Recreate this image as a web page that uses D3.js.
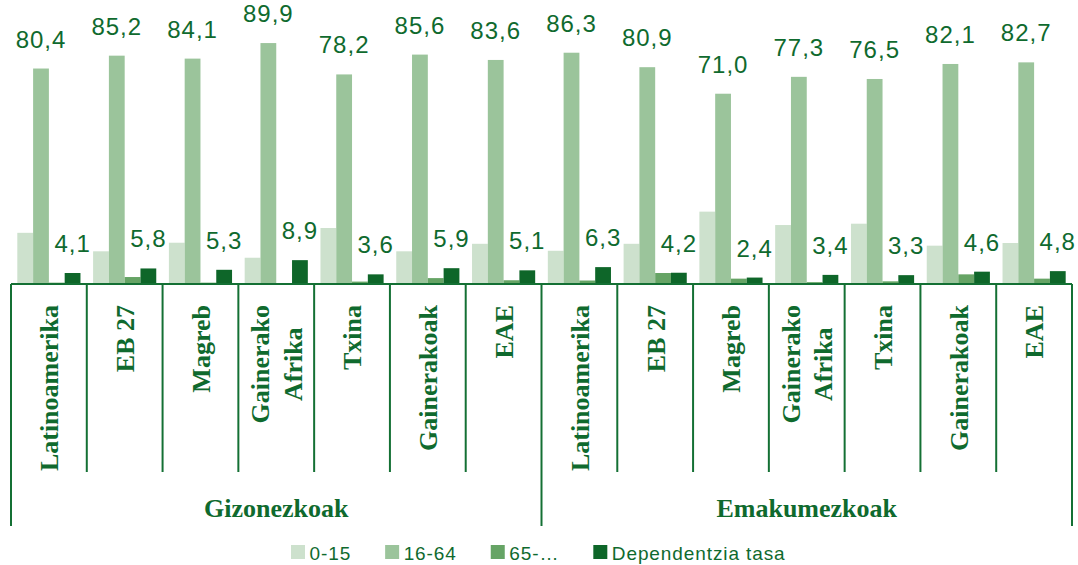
<!DOCTYPE html>
<html>
<head>
<meta charset="utf-8">
<script src="https://cdn.jsdelivr.net/npm/d3@7"></script>
<style>
  body { margin: 0; background: #fff; }
  svg { display: block; }
</style>
</head>
<body>
<svg id="chart"></svg>
<script>
const groups = ["Gizonezkoak", "Emakumezkoak"];
const origins = ["Latinoamerika", "EB 27", "Magreb", "Gainerako\nAfrika", "Txina", "Gainerakoak", "EAE"];
const series = ["0-15", "16-64", "65-…", "Dependentzia tasa"];

// one value per group/origin, Gizonezkoak first then Emakumezkoak
const age0_15  = [19.1, 12.2, 15.4, 9.8, 20.9, 12.2, 15.0, 12.4, 15.0, 27.0, 22.0, 22.5, 14.3, 15.3];
const age16_64 = [80.4, 85.2, 84.1, 89.9, 78.2, 85.6, 83.6, 86.3, 80.9, 71.0, 77.3, 76.5, 82.1, 82.7];
const age65    = [0.5, 2.6, 0.5, 0.3, 0.9, 2.2, 1.4, 1.3, 4.1, 2.0, 0.7, 1.0, 3.6, 2.0];
const depRate  = [4.1, 5.8, 5.3, 8.9, 3.6, 5.9, 5.1, 6.3, 4.2, 2.4, 3.4, 3.3, 4.6, 4.8];

const colors = ["#cde1cd", "#9bc49b", "#66a465", "#0e6629"];
const ink = "#0f6a2e";
const lineCol = "#147034";

const width = 1078, height = 565;
const svg = d3.select("#chart").attr("width", width).attr("height", height);

const cats = [];
groups.forEach(g => origins.forEach(o => cats.push(g + "|" + o)));
const values = [age0_15, age16_64, age65, depRate];
const data = cats.map((c, i) => ({ key: c, vals: values.map(v => v[i]) }));

const x0 = d3.scaleBand().domain(cats).range([11, 1072]).padding(0);
const x1 = d3.scaleBand().domain(series).range([0, x0.bandwidth()]).paddingInner(0).paddingOuter(0.4);
const y = d3.scaleLinear().domain([0, 100]).range([284, 16]);

const fmt = d3.formatLocale({ decimal: ",", thousands: ".", grouping: [3], currency: ["", "€"] }).format(".1f");

// bars
const g = svg.append("g");
const grp = g.selectAll("g.cat").data(data).join("g")
  .attr("class", "cat")
  .attr("transform", d => `translate(${x0(d.key)},0)`);

grp.selectAll("rect").data(d => d.vals.map((v, j) => ({ s: series[j], v, j }))).join("rect")
  .attr("x", d => x1(d.s))
  .attr("width", x1.bandwidth())
  .attr("y", d => y(d.v))
  .attr("height", d => y(0) - y(d.v))
  .attr("fill", d => colors[d.j]);

// value labels on 16-64 and dependency rate
grp.selectAll("text.val").data(d => d.vals.map((v, j) => ({ s: series[j], v, j })).filter(d => d.j === 1 || d.j === 3))
  .join("text")
  .attr("class", "val")
  .attr("x", d => x1(d.s) + x1.bandwidth() / 2)
  .attr("y", d => y(d.v) - 21)
  .attr("text-anchor", "middle")
  .attr("font-family", "Liberation Sans, Arial, sans-serif")
  .attr("font-size", 24)
  .attr("letter-spacing", 1)
  .attr("fill", ink)
  .text(d => fmt(d.v));

// axis lines
const axis = svg.append("g").attr("stroke", lineCol).attr("stroke-width", 2);
axis.append("line").attr("x1", 11).attr("x2", 1072).attr("y1", y(0)).attr("y2", y(0));
const bounds = cats.map(c => x0(c)).concat([x0.range()[1]]);
bounds.forEach((bx, i) => {
  const outer = i % origins.length === 0;
  axis.append("line")
    .attr("x1", bx).attr("x2", bx)
    .attr("y1", y(0)).attr("y2", outer ? 526 : 472);
});

// category labels (rotated)
const fs = 26, lineH = 32.4, labTop = 305;
cats.forEach(c => {
  const lines = c.split("|")[1].split("\n");
  const cx = x0(c) + x0.bandwidth() / 2;
  const tmp = lines.map((t, i) => svg.append("text")
    .attr("font-family", "Liberation Serif, Times New Roman, serif")
    .attr("font-weight", "bold")
    .attr("font-size", fs)
    .attr("fill", ink)
    .text(t));
  const wMax = d3.max(tmp, t => t.node().getComputedTextLength());
  tmp.forEach((t, i) => {
    const bx = cx + (i - (lines.length - 1) / 2) * lineH + 0.36 * fs;
    if (lines.length === 1) {
      t.attr("text-anchor", "end").attr("transform", `translate(${bx},${labTop}) rotate(-90)`);
    } else {
      t.attr("text-anchor", "middle").attr("transform", `translate(${bx},${labTop + wMax / 2}) rotate(-90)`);
    }
  });
});

// group labels
groups.forEach((gr, i) => {
  const a = x0(gr + "|" + origins[0]);
  const b = x0(gr + "|" + origins[origins.length - 1]) + x0.bandwidth();
  svg.append("text")
    .attr("x", (a + b) / 2)
    .attr("y", 517)
    .attr("text-anchor", "middle")
    .attr("font-family", "Liberation Serif, Times New Roman, serif")
    .attr("font-weight", "bold")
    .attr("font-size", fs)
    .attr("fill", ink)
    .text(gr);
});

// legend
const leg = svg.append("g");
let lx = 291;
series.forEach((s, i) => {
  leg.append("rect").attr("x", lx).attr("y", 545).attr("width", 14).attr("height", 14).attr("fill", colors[i]);
  const t = leg.append("text")
    .attr("x", lx + 18.5)
    .attr("y", 560)
    .attr("font-family", "Liberation Sans, Arial, sans-serif")
    .attr("font-size", 19)
    .attr("letter-spacing", 0.9)
    .attr("fill", ink)
    .text(s);
  lx += 18.5 + t.node().getComputedTextLength() + 34;
});
</script>
</body>
</html>
